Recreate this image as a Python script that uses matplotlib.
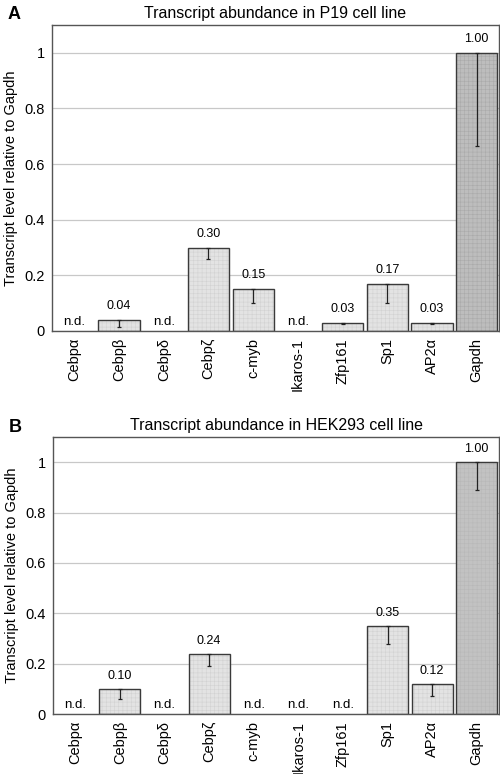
import matplotlib
matplotlib.use("Agg")
import matplotlib.pyplot as plt
import numpy as np

plt.rcParams['font.family'] = ['Liberation Sans', 'DejaVu Sans']
plt.rcParams['hatch.linewidth'] = 0.4

genes = ["Cebp\u03b1", "Cebp\u03b2", "Cebp\u03b4", "Cebp\u03b6", "c-myb",
         "Ikaros-1", "Zfp161", "Sp1", "AP2\u03b1", "Gapdh"]

# None = not detected
p19_vals = [None, 0.04, None, 0.30, 0.15, None, 0.03, 0.17, 0.03, 1.00]
p19_err = [0, 0.025, 0, 0.04, 0.05, 0, 0.005, 0.07, 0.005, 0.335]

hek_vals = [None, 0.10, None, 0.24, None, None, None, 0.35, 0.12, 1.00]
hek_err = [0, 0.04, 0, 0.05, 0, 0, 0, 0.07, 0.05, 0.11]

titles = ["Transcript abundance in P19 cell line",
          "Transcript abundance in HEK293 cell line"]
panel_letters = ["A", "B"]

fig = plt.figure(figsize=(5, 7.74), dpi=100)
ax_a = fig.add_axes([0.104, 0.5724, 0.894, 0.3953])
ax_b = fig.add_axes([0.106, 0.0775, 0.892, 0.3579])

for ax, vals, errs, title, letter, gap_col, gap_hatch in [
        (ax_a, p19_vals, p19_err, titles[0], panel_letters[0], '#bdbdbd', '#aaaaaa'),
        (ax_b, hek_vals, hek_err, titles[1], panel_letters[1], '#c2c2c2', '#b8b8b8')]:
    x = np.arange(len(genes))
    for i, (v, e) in enumerate(zip(vals, errs)):
        if v is None:
            ax.text(i, 0.012, "n.d.", ha='center', va='bottom', fontsize=9.5)
            continue
        if genes[i] == "Gapdh":
            col, hcol = gap_col, gap_hatch
        else:
            col, hcol = '#e3e3e3', '#d2d2d2'
        ax.bar(i, v, width=0.92, color=col, edgecolor=hcol, linewidth=0,
               hatch='++++', zorder=2)
        ax.bar(i, v, width=0.92, color='none', edgecolor='#3a3a3a', linewidth=1.0,
               zorder=2.5)
        ax.errorbar(i, v, yerr=[[e], [0]], fmt='none', ecolor='#222222',
                    elinewidth=0.9, capsize=1.5, capthick=0.9, zorder=3)
        ax.text(i, v + 0.028, f"{v:.2f}", ha='center', va='bottom', fontsize=9)
    ax.set_xlim(-0.5, len(genes) - 0.5)
    ax.set_ylim(0, 1.1)
    ax.set_yticks([0, 0.2, 0.4, 0.6, 0.8, 1.0])
    ax.set_yticklabels(["0", "0.2", "0.4", "0.6", "0.8", "1"], fontsize=10.5)
    ax.set_xticks(x)
    ax.set_xticklabels(genes, rotation=90, fontsize=10.5)
    ax.tick_params(axis='both', length=0, pad=5)
    ax.yaxis.grid(True, color='#c8c8c8', linewidth=0.9, zorder=0)
    ax.set_axisbelow(True)
    for s in ax.spines.values():
        s.set_color('#555555')
        s.set_linewidth(1.0)
    ax.set_ylabel("Transcript level relative to Gapdh", fontsize=10.5, labelpad=5)
    ax.set_title(title, fontsize=11.5, pad=5)
    ax.text(-0.1, 1.005, letter, transform=ax.transAxes, fontsize=13,
            fontweight='bold', ha='left', va='bottom')

fig.savefig("out.png", dpi=100)
